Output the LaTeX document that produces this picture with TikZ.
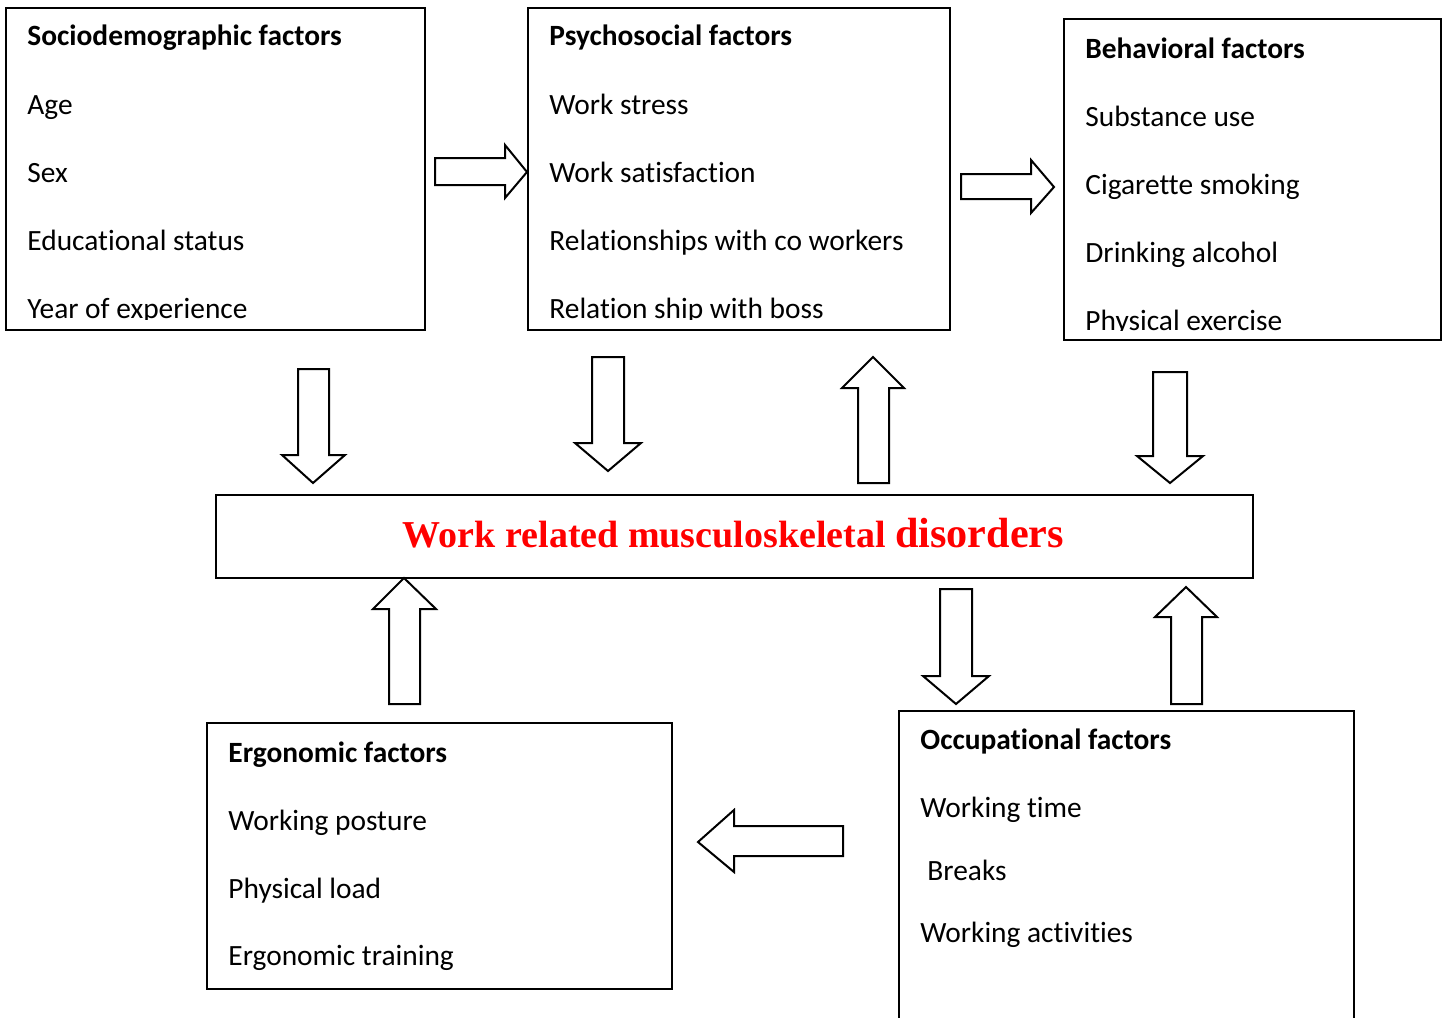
\documentclass[tikz,border=0pt]{standalone}
\usepackage{fontspec}
\setmainfont{Carlito}[Ligatures=NoCommon]
\newfontfamily\serifred{Liberation Serif}
\usetikzlibrary{fit}
\begin{document}
\begin{tikzpicture}[x=0.5pt,y=-0.5pt,
  fbox/.style={draw=black,line width=1pt,inner sep=0pt,fill=none},
  blk/.style={draw=black,line width=1pt,fill=white,line join=miter},
  txt/.style={anchor=base west,inner sep=0pt,font=\fontsize{14.7pt}{17pt}\selectfont},
  ttl/.style={txt,font=\fontsize{14.7pt}{17pt}\selectfont\bfseries}]
\clip (0,0) rectangle (1445,1017);
\fill[white] (0,0) rectangle (1445,1017);
% boxes
\node[fbox,fit={(6,8) (425,330)}] (socio) {};
\node[fbox,fit={(528,8) (950,330)}] (psycho) {};
\node[fbox,fit={(1064,19) (1441,340)}] (behav) {};
\node[fbox,fit={(216,495) (1253,578)}] (wmsd) {};
\node[fbox,fit={(207,723) (672,989)}] (ergo) {};
\node[fbox,fit={(899,711) (1354,1040)}] (occu) {};
% sociodemographic
\begin{scope}
\clip (6,8) rectangle (425,319);
\node[ttl] (s0) at (27,46) {Sociodemographic factors};
\node[txt] (s1) at (27,114) {Age};
\node[txt] (s2) at (27,182) {Sex};
\node[txt] (s3) at (27,250) {Educational status};
\node[txt] (s4) at (27,318) {Year of experience};
\end{scope}
% psychosocial
\begin{scope}
\clip (528,8) rectangle (950,319);
\node[ttl] (p0) at (549,46) {Psychosocial factors};
\node[txt] (p1) at (549,114) {Work stress};
\node[txt] (p2) at (549,182) {Work satisfaction};
\node[txt] (p3) at (549,250) {Relationships with co workers};
\node[txt] (p4) at (549,318) {Relation ship with boss};
\end{scope}
% behavioral
\begin{scope}
\clip (1064,19) rectangle (1441,330);
\node[ttl] (h0) at (1085,58) {Behavioral factors};
\node[txt] (h1) at (1085,126) {Substance use};
\node[txt] (h2) at (1085,194) {Cigarette smoking};
\node[txt] (h3) at (1085,262) {Drinking alcohol};
\node[txt] (h4) at (1085,330) {Physical exercise};
\end{scope}
% ergonomic
\node[ttl] (e0) at (228,762) {Ergonomic factors};
\node[txt] (e1) at (228,830) {Working posture};
\node[txt] (e2) at (228,898) {Physical load};
\node[txt] (e3) at (228,965) {Ergonomic training};
% occupational
\node[ttl] (o0) at (920,749) {Occupational factors};
\node[txt] (o1) at (920,817) {Working time};
\node[txt] (o2) at (927,880) {Breaks};
\node[txt] (o3) at (920,942) {Working activities};
% center
\node[anchor=base,inner sep=0pt,text=red] (wt) at (733.5,547)
  {\serifred\bfseries{\fontsize{19pt}{22pt}\selectfont Work related musculoskeletal\ }{\fontsize{21.1pt}{24pt}\selectfont disorders}};
% block arrows
\draw[blk] (435,158) -- (505,158) -- (505,145) -- (527,172) -- (505,198) -- (505,185) -- (435,185) -- cycle;
\draw[blk] (961,174) -- (1031,174) -- (1031,160) -- (1054,187) -- (1031,213) -- (1031,199) -- (961,199) -- cycle;
\draw[blk] (298,369) -- (329,369) -- (329,455) -- (345,455) -- (313,483) -- (282,455) -- (298,455) -- cycle;
\draw[blk] (592,357) -- (624,357) -- (624,443) -- (641,443) -- (608,471) -- (575,443) -- (592,443) -- cycle;
\draw[blk] (858,483) -- (889,483) -- (889,388) -- (904,388) -- (873,357) -- (842,388) -- (858,388) -- cycle;
\draw[blk] (1153,372) -- (1187,372) -- (1187,456) -- (1203,456) -- (1170,483) -- (1137,456) -- (1153,456) -- cycle;
\draw[blk] (389,704) -- (420,704) -- (420,609) -- (436,609) -- (404,578) -- (373,609) -- (389,609) -- cycle;
\draw[blk] (940,589) -- (972,589) -- (972,676) -- (989,676) -- (956,704) -- (923,676) -- (940,676) -- cycle;
\draw[blk] (1171,704) -- (1202,704) -- (1202,617) -- (1217,617) -- (1186,587) -- (1155,617) -- (1171,617) -- cycle;
\draw[blk] (843,826) -- (734,826) -- (734,810) -- (698,842) -- (734,872) -- (734,856) -- (843,856) -- cycle;
\end{tikzpicture}
\end{document}
